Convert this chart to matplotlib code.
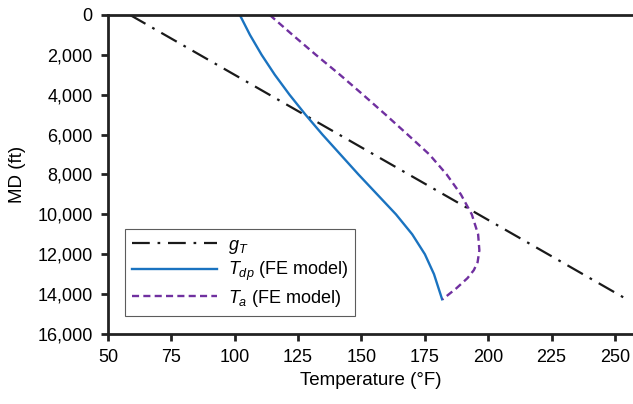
import matplotlib.pyplot as plt

plt.rcParams['font.family'] = ['Liberation Sans', 'DejaVu Sans']
plt.rcParams['mathtext.fontset'] = 'custom'
plt.rcParams['mathtext.rm'] = 'Liberation Sans'
plt.rcParams['mathtext.it'] = 'Liberation Sans:italic'

# geothermal gradient line
gt_md = [0, 14300]
gt_temp = [58.7, 255.2]

# drill pipe temperature (FE model)
tdp_md = [0, 1000, 2000, 3000, 4000, 5000, 6000, 7000, 8000, 9000, 10000, 11000, 12000, 13000, 14260]
tdp_temp = [102.0, 106.0, 110.6, 115.8, 121.6, 127.9, 134.6, 141.7, 148.8, 156.2, 163.6, 170.0, 175.0, 178.6, 181.8]

# annulus temperature (FE model)
ta_md = [0, 1000, 2000, 3000, 4000, 5000, 6000, 7000, 8000, 9000, 10000, 11000, 11800, 12400,
         12800, 13200, 13700, 14260]
ta_temp = [113.8, 122.8, 132.0, 141.5, 150.6, 159.5, 168.2, 176.8, 183.6, 189.2, 193.5, 196.0, 196.5,
           195.8, 194.3, 191.8, 187.5, 182.0]

fig = plt.figure(figsize=(6.33, 4.04), dpi=100)
ax = fig.add_axes([0.1706, 0.1733, 0.829, 0.7897])

ax.plot(gt_temp, gt_md, color='#1a1a1a', lw=1.6, dashes=(8, 3.5, 1.2, 3.5), label='$g_T$')
ax.plot(tdp_temp, tdp_md, color='#1a73c0', lw=1.7, label='$T_{dp}$ (FE model)')
ax.plot(ta_temp, ta_md, color='#7030a0', lw=1.7, dashes=(3, 1.8), label='$T_a$ (FE model)')

ax.set_xlim(50, 257)
ax.set_ylim(16000, 0)
ax.set_xticks(range(50, 251, 25))
ax.set_yticks(range(0, 16001, 2000))
ax.yaxis.set_major_formatter(plt.FuncFormatter(lambda v, p: f'{int(v):,}'))

for side in ['left', 'bottom', 'top']:
    ax.spines[side].set_linewidth(2)
    ax.spines[side].set_color('#222222')
ax.spines['right'].set_visible(False)
ax.tick_params(direction='out', length=5, width=2, color='#222222', labelsize=13,
               top=False, right=False, pad=6)

ax.set_xlabel('Temperature (°F)', fontsize=13.5, labelpad=4)
ax.set_ylabel('MD (ft)', fontsize=13.5, labelpad=8)

leg = ax.legend(loc='lower left', bbox_to_anchor=(0.015, 0.028), fontsize=13, frameon=True,
                fancybox=False, handlelength=4.7, borderpad=0.4, labelspacing=0.25,
                handletextpad=0.6)
leg.get_frame().set_edgecolor('#333333')
leg.get_frame().set_linewidth(0.8)

fig.savefig('out.png', dpi=100)
